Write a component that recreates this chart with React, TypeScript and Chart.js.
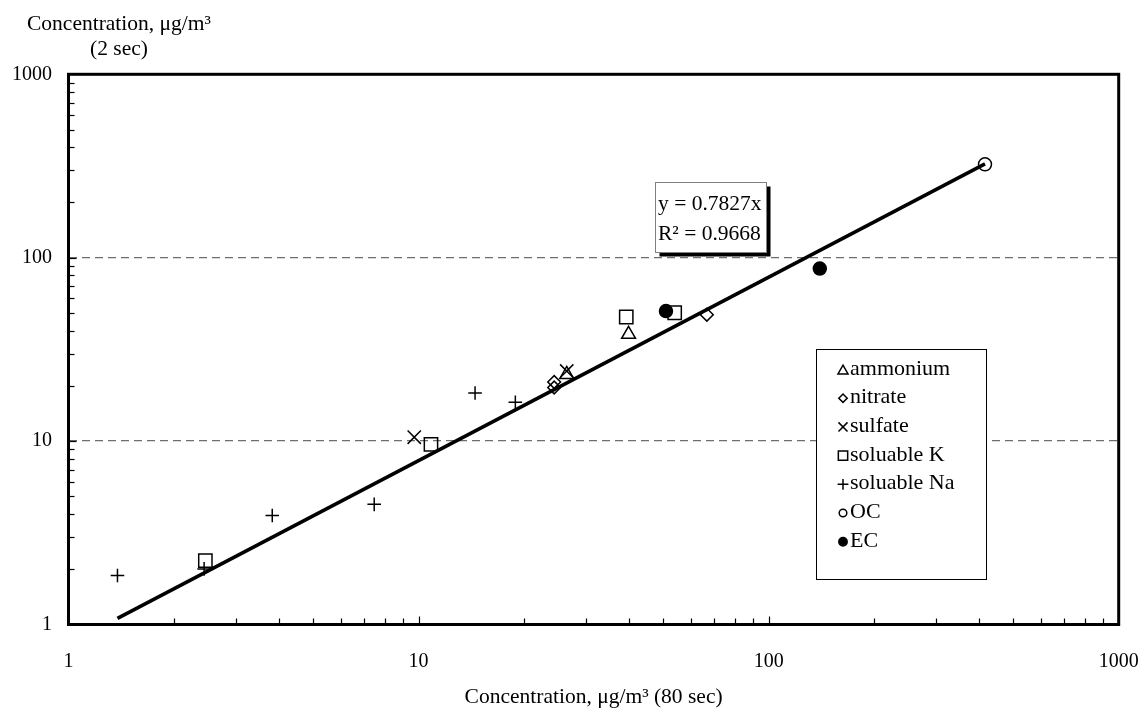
import React, { useEffect, useRef } from 'react';
import { Chart, registerables } from 'chart.js';
import { drawPoint } from 'chart.js/helpers';

Chart.register(...registerables);

const FONT = "'Liberation Serif', 'Times New Roman', Times, serif";

// ---- data ----
const seriesNames = ['ammonium', 'nitrate', 'sulfate', 'soluable K', 'soluable Na', 'OC', 'EC'];
const ammonium = [{ x: 26.5, y: 23.1 }, { x: 39.8, y: 38.2 }];
const nitrate = [{ x: 24.4, y: 21.0 }, { x: 24.4, y: 19.6 }, { x: 66.6, y: 48.9 }];
const sulfate = [{ x: 9.72, y: 10.5 }, { x: 26.5, y: 24.1 }];
const solubleK = [{ x: 2.46, y: 2.23 }, { x: 10.85, y: 9.6 }, { x: 39.2, y: 47.5 }, { x: 53.9, y: 50.1 }];
const solubleNa = [
  { x: 1.38, y: 1.85 }, { x: 2.44, y: 2.01 }, { x: 3.82, y: 3.93 },
  { x: 7.47, y: 4.52 }, { x: 14.5, y: 18.3 }, { x: 18.9, y: 16.3 },
];
const oc = [{ x: 415, y: 323 }];
const ec = [{ x: 50.9, y: 51.2 }, { x: 140, y: 87.2 }];
const trendLine = [{ x: 1.38, y: 1.08 }, { x: 415, y: 324.8 }];
const seriesData = [ammonium, nitrate, sulfate, solubleK, solubleNa, oc, ec];

const xTicks = [1, 10, 100, 1000];
const yTicks = [1, 10, 100, 1000];
const yGridValues = [10, 100];
const decades = [1, 10, 100];
const minorMultipliers = [2, 3, 4, 5, 6, 7, 8, 9];

const equationLines = ['y = 0.7827x', 'R\u00B2 = 0.9668'];
const yTitleLines = ['Concentration, \u03BCg/m\u00B3', '(2 sec)'];
const xTitle = 'Concentration, \u03BCg/m\u00B3 (80 sec)';

// ---- styles ----
const seriesStyles = [
  { pointStyle: 'triangle', radius: 8, legendRadius: 5.8, filled: false },
  { pointStyle: 'rectRot', radius: 6.4, legendRadius: 4.2, filled: false },
  { pointStyle: 'crossRot', radius: 9.4, legendRadius: 6.4, filled: false },
  { pointStyle: 'rect', radius: 9.4, legendRadius: 6.6, filled: false },
  { pointStyle: 'cross', radius: 6.8, legendRadius: 5.4, filled: false },
  { pointStyle: 'circle', radius: 6.5, legendRadius: 3.8, filled: false },
  { pointStyle: 'circle', radius: 6.5, legendRadius: 4.2, filled: true },
];

const decorPlugin = {
  id: 'decor',
  afterDatasetsDraw(chart: any) {
    const { ctx, chartArea } = chart;
    const { left, right, top, bottom } = chartArea;
    const xs = chart.scales.x;
    const ys = chart.scales.y;
    ctx.save();
    ctx.strokeStyle = '#000';
    ctx.lineWidth = 1.2;
    decades.forEach((d) => {
      [1, ...minorMultipliers].forEach((m) => {
        const v = d * m;
        if (v === 1) return;
        const len = m === 1 ? 8 : 6;
        const px = Math.round(xs.getPixelForValue(v)) + 0.5;
        ctx.beginPath();
        ctx.moveTo(px, bottom);
        ctx.lineTo(px, bottom - len);
        ctx.stroke();
        const py = Math.round(ys.getPixelForValue(v)) + 0.5;
        ctx.beginPath();
        ctx.moveTo(left, py);
        ctx.lineTo(left + len, py);
        ctx.stroke();
      });
    });
    ctx.lineWidth = 3;
    ctx.lineJoin = 'miter';
    ctx.strokeRect(left, top, right - left, bottom - top);
    ctx.restore();
  },
  afterDraw(chart: any) {
    const { ctx } = chart;
    ctx.save();
    ctx.fillStyle = '#000';
    ctx.font = `21.5px ${FONT}`;
    ctx.textAlign = 'center';
    ctx.textBaseline = 'alphabetic';
    ctx.fillText(yTitleLines[0], 119, 30);
    ctx.fillText(yTitleLines[1], 119, 55);

    const bx = 655.5, by = 182.5, bw = 111, bh = 70;
    ctx.fillStyle = '#000';
    ctx.fillRect(bx + 4, by + 4, bw, bh);
    ctx.fillStyle = '#fff';
    ctx.fillRect(bx, by, bw, bh);
    ctx.strokeStyle = '#808080';
    ctx.lineWidth = 1;
    ctx.strokeRect(bx, by, bw, bh);
    ctx.fillStyle = '#000';
    ctx.textAlign = 'left';
    ctx.font = `21.5px ${FONT}`;
    ctx.fillText(equationLines[0], 658, 210);
    ctx.fillText(equationLines[1], 658, 239.5);

    const lx = 816.5, ly = 349.5, lw = 170, lh = 230;
    ctx.fillStyle = '#fff';
    ctx.fillRect(lx, ly, lw, lh);
    ctx.strokeStyle = '#000';
    ctx.lineWidth = 1;
    ctx.strokeRect(lx, ly, lw, lh);
    ctx.font = `22px ${FONT}`;
    seriesNames.forEach((name, i) => {
      const st = seriesStyles[i];
      const cy = 369.5 + i * 28.7;
      ctx.save();
      ctx.strokeStyle = '#000';
      ctx.fillStyle = st.filled ? '#000' : 'rgba(0,0,0,0)';
      ctx.lineWidth = 1.5;
      drawPoint(ctx, { pointStyle: st.pointStyle, radius: st.legendRadius, rotation: 0, borderWidth: 1.5 } as any, 843, st.pointStyle === 'triangle' ? cy + 1.5 : cy);
      ctx.restore();
      ctx.fillStyle = '#000';
      ctx.textAlign = 'left';
      ctx.fillText(name, 850, cy + 5);
    });
    ctx.restore();
  },
};

export default function App() {
  const canvasRef = useRef<HTMLCanvasElement | null>(null);

  useEffect(() => {
    document.body.style.margin = '0';
    const canvas = canvasRef.current;
    if (!canvas) return;

    const datasets: any[] = seriesNames.map((name, i) => ({
      label: name,
      data: seriesData[i],
      pointStyle: seriesStyles[i].pointStyle,
      pointRadius: seriesStyles[i].radius,
      pointHoverRadius: seriesStyles[i].radius,
      pointBorderWidth: 1.5,
      borderColor: '#000',
      backgroundColor: seriesStyles[i].filled ? '#000' : 'rgba(0,0,0,0)',
      showLine: false,
      order: 1,
    }));
    datasets.push({
      label: 'trend',
      data: trendLine,
      showLine: true,
      pointRadius: 0,
      borderColor: '#000',
      borderWidth: 3.5,
      fill: false,
      order: 10,
    });

    const chart = new Chart(canvas, {
      type: 'scatter',
      data: { datasets },
      options: {
        animation: false,
        responsive: true,
        maintainAspectRatio: false,
        layout: { padding: { top: 74.3, right: 27.3, left: 0, bottom: 0 } },
        plugins: {
          legend: { display: false },
          tooltip: { enabled: false },
        },
        scales: {
          x: {
            type: 'logarithmic',
            position: 'bottom',
            min: 1,
            max: 1000,
            afterBuildTicks: (s: any) => { s.ticks = xTicks.map((v) => ({ value: v })); },
            afterFit: (s: any) => { s.height = 88.5; s.paddingLeft = 0; s.paddingRight = 0; },
            grid: { display: false, drawTicks: false },
            border: { display: false },
            ticks: {
              autoSkip: false,
              maxRotation: 0,
              padding: 25.5,
              color: '#000',
              font: { family: FONT, size: 20 },
              callback: (v: any) => String(v),
            },
            title: {
              display: true,
              text: xTitle,
              color: '#000',
              font: { family: FONT, size: 21.5 },
              padding: { top: 0, bottom: 3 },
            },
          },
          y: {
            type: 'logarithmic',
            min: 1,
            max: 1000,
            afterBuildTicks: (s: any) => { s.ticks = yTicks.map((v) => ({ value: v })); },
            afterFit: (s: any) => { s.width = 68.5; s.paddingTop = 0; s.paddingBottom = 0; },
            grid: {
              drawTicks: false,
              lineWidth: 1.3,
              color: (c: any) => (c.tick && yGridValues.includes(c.tick.value) ? '#6e6e6e' : 'rgba(0,0,0,0)'),
            },
            border: { display: false, dash: [8, 5] },
            ticks: {
              autoSkip: false,
              padding: 16.5,
              color: '#000',
              font: { family: FONT, size: 20 },
              callback: (v: any) => String(v),
            },
          },
        },
      } as any,
      plugins: [decorPlugin],
    });

    return () => chart.destroy();
  }, []);

  return (
    <div style={{ position: 'fixed', left: 0, top: 0, width: 1146, height: 713, background: '#fff' }}>
      <canvas ref={canvasRef} />
    </div>
  );
}
